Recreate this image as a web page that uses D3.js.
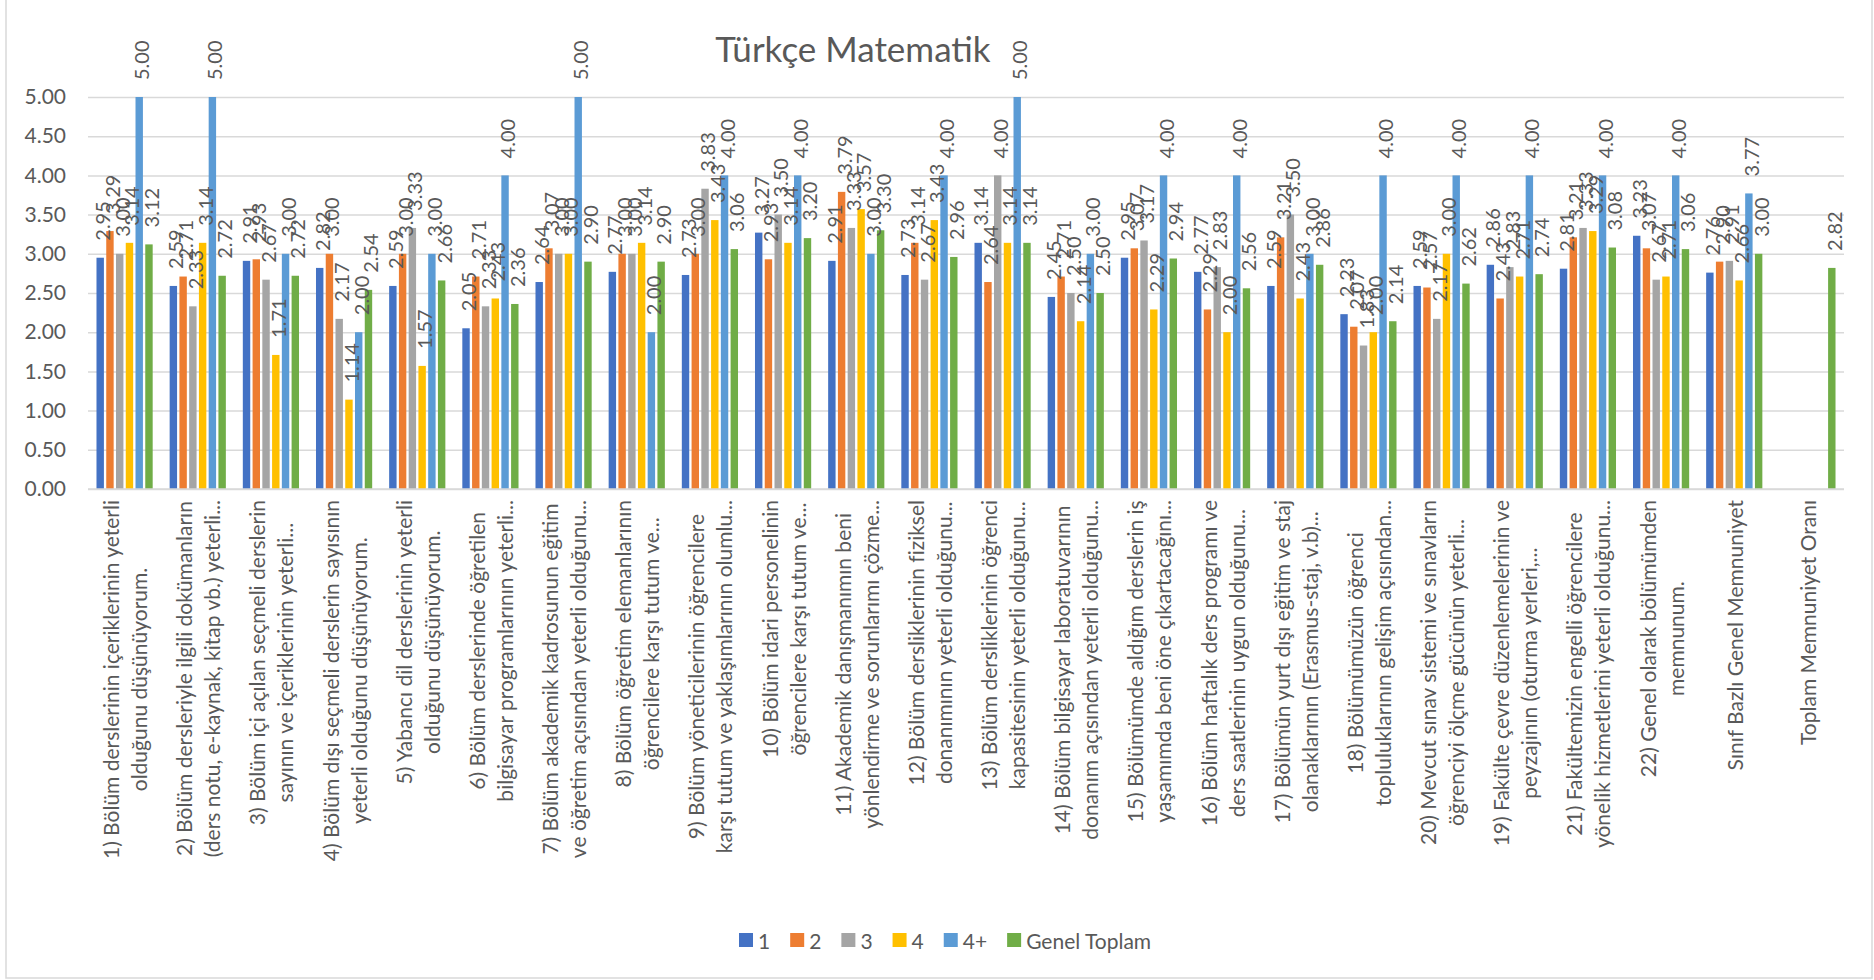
<!DOCTYPE html>
<html lang="tr">
<head>
<meta charset="utf-8">
<title>Türkçe Matematik</title>
<script src="https://cdn.jsdelivr.net/npm/d3@7"></script>
<style>
  html, body { margin: 0; padding: 0; background: #ffffff; }
  svg { display: block; }
</style>
</head>
<body>
<div id="chart"></div>
<script>
/* Category labels, as wrapped (and cut) in the original chart */
const categoryLabels = [
  ['1) Bölüm derslerinin içeriklerinin yeterli', 'olduğunu düşünüyorum.'],
  ['2) Bölüm dersleriyle ilgili dokümanların', '(ders notu, e-kaynak, kitap vb.) yeterli...'],
  ['3) Bölüm içi açılan seçmeli derslerin', 'sayının ve içeriklerinin yeterli...'],
  ['4) Bölüm dışı seçmeli derslerin sayısının', 'yeterli olduğunu düşünüyorum.'],
  ['5) Yabancı dil derslerinin yeterli', 'olduğunu düşünüyorum.'],
  ['6) Bölüm derslerinde öğretilen', 'bilgisayar programlarının yeterli...'],
  ['7) Bölüm akademik kadrosunun eğitim', 've öğretim açısından yeterli olduğunu...'],
  ['8) Bölüm öğretim elemanlarının', 'öğrencilere karşı tutum ve...'],
  ['9) Bölüm yöneticilerinin öğrencilere', 'karşı tutum ve yaklaşımlarının olumlu...'],
  ['10) Bölüm idari personelinin', 'öğrencilere karşı tutum ve...'],
  ['11) Akademik danışmanımın beni', 'yönlendirme ve sorunlarımı çözme...'],
  ['12) Bölüm dersliklerinin fiziksel', 'donanımının yeterli olduğunu...'],
  ['13) Bölüm dersliklerinin öğrenci', 'kapasitesinin yeterli olduğunu...'],
  ['14) Bölüm bilgisayar laboratuvarının', 'donanım açısından yeterli olduğunu...'],
  ['15) Bölümümde aldığım derslerin iş', 'yaşamımda beni öne çıkartacağını...'],
  ['16) Bölüm haftalık ders programı ve', 'ders saatlerinin uygun olduğunu...'],
  ['17) Bölümün yurt dışı eğitim ve staj', 'olanaklarının (Erasmus-staj, v.b)...'],
  ['18) Bölümümüzün öğrenci', 'topluluklarının gelişim açısından...'],
  ['20) Mevcut sınav sistemi ve sınavların', 'öğrenciyi ölçme gücünün yeterli...'],
  ['19) Fakülte çevre düzenlemelerinin ve', 'peyzajının (oturma yerleri,...'],
  ['21) Fakültemizin engelli öğrencilere', 'yönelik hizmetlerini yeterli olduğunu...'],
  ['22) Genel olarak bölümümden', 'memnunum.'],
  ['Sınıf Bazlı Genel Memnuniyet'],
  ['Toplam Memnuniyet Oranı'],
];

const seriesNames = ['1', '2', '3', '4', '4+', 'Genel Toplam'];
const seriesColors = ['#4472C4', '#ED7D31', '#A5A5A5', '#FFC000', '#5B9BD5', '#70AD47'];

const values1 = [2.95, 2.59, 2.91, 2.82, 2.59, 2.05, 2.64, 2.77, 2.73, 3.27, 2.91, 2.73, 3.14, 2.45, 2.95, 2.77, 2.59, 2.23, 2.59, 2.86, 2.81, 3.23, 2.76, null];
const values2 = [3.29, 2.71, 2.93, 3.00, 3.00, 2.71, 3.07, 3.00, 3.00, 2.93, 3.79, 3.14, 2.64, 2.71, 3.07, 2.29, 3.21, 2.07, 2.57, 2.43, 3.21, 3.07, 2.90, null];
const values3 = [3.00, 2.33, 2.67, 2.17, 3.33, 2.33, 3.00, 3.00, 3.83, 3.50, 3.33, 2.67, 4.00, 2.50, 3.17, 2.83, 3.50, 1.83, 2.17, 2.83, 3.33, 2.67, 2.91, null];
const values4 = [3.14, 3.14, 1.71, 1.14, 1.57, 2.43, 3.00, 3.14, 3.43, 3.14, 3.57, 3.43, 3.14, 2.14, 2.29, 2.00, 2.43, 2.00, 3.00, 2.71, 3.29, 2.71, 2.66, null];
const values4plus = [5.00, 5.00, 3.00, 2.00, 3.00, 4.00, 5.00, 2.00, 4.00, 4.00, 3.00, 4.00, 5.00, 3.00, 4.00, 4.00, 3.00, 4.00, 4.00, 4.00, 4.00, 4.00, 3.77, null];
const valuesTotal = [3.12, 2.72, 2.72, 2.54, 2.66, 2.36, 2.90, 2.90, 3.06, 3.20, 3.30, 2.96, 3.14, 2.50, 2.94, 2.56, 2.86, 2.14, 2.62, 2.74, 3.08, 3.06, 3.00, 2.82];

const seriesValues = [values1, values2, values3, values4, values4plus, valuesTotal];
const yTicks = [0, 0.5, 1, 1.5, 2, 2.5, 3, 3.5, 4, 4.5, 5];

const width = 1874;
const height = 980;
const plot = { left: 88, right: 1844, top: 97, bottom: 489 };

const textColor = '#595959';
const gridColor = '#D9D9D9';
const fontFamily = 'Lato, "Open Sans", sans-serif';

const svg = d3
  .select('#chart')
  .append('svg')
  .attr('width', width)
  .attr('height', height)
  .attr('viewBox', `0 0 ${width} ${height}`)
  .style('background', '#ffffff')
  .style('font-family', fontFamily);

/* Chart border (left, right, bottom) */
svg
  .append('path')
  .attr('d', `M6,0 V978 H1872 V0`)
  .attr('fill', 'none')
  .attr('stroke', gridColor)
  .attr('stroke-width', 1.5);

/* Title */
svg
  .append('text')
  .attr('x', 853)
  .attr('y', 62)
  .attr('text-anchor', 'middle')
  .attr('fill', textColor)
  .attr('font-size', 35)
  .text('Türkçe Matematik');

/* Scales */
const categoryIndex = d3.range(categoryLabels.length);

const x0 = d3
  .scaleBand()
  .domain(categoryIndex)
  .range([plot.left, plot.right])
  .paddingInner(0.232)
  .paddingOuter(0.116);

const x1 = d3
  .scaleBand()
  .domain(d3.range(seriesNames.length))
  .range([0, x0.bandwidth()])
  .paddingInner(0.24)
  .paddingOuter(0);

const y = d3.scaleLinear().domain([0, 5]).range([plot.bottom, plot.top]);

/* Grid and y axis */
const yAxis = svg
  .append('g')
  .attr('transform', `translate(${plot.left},0)`)
  .call(
    d3
      .axisLeft(y)
      .tickValues(yTicks)
      .tickSize(-(plot.right - plot.left))
      .tickPadding(22)
      .tickFormat(d3.format('.2f'))
  );

yAxis.select('.domain').remove();
yAxis.selectAll('line').attr('stroke', gridColor).attr('stroke-width', 1.5);
yAxis
  .selectAll('text')
  .attr('fill', textColor)
  .attr('font-size', 21)
  .attr('font-family', fontFamily);

/* Bars */
const barData = [];
seriesValues.forEach((vals, s) => {
  vals.forEach((v, i) => {
    if (v !== null) barData.push({ s, i, v });
  });
});

svg
  .append('g')
  .selectAll('rect')
  .data(barData)
  .join('rect')
  .attr('x', (d) => x0(d.i) + x1(d.s))
  .attr('y', (d) => y(d.v))
  .attr('width', x1.bandwidth())
  .attr('height', (d) => y(0) - y(d.v))
  .attr('fill', (d) => seriesColors[d.s]);

/* Data labels, rotated above each bar */
svg
  .append('g')
  .selectAll('text')
  .data(barData)
  .join('text')
  .attr('transform', (d) => {
    const cx = x0(d.i) + x1(d.s) + x1.bandwidth() / 2 + 2;
    return `translate(${cx},${y(d.v) - 17}) rotate(-90)`;
  })
  .attr('text-anchor', 'start')
  .attr('dominant-baseline', 'central')
  .attr('fill', textColor)
  .attr('font-size', 20)
  .text((d) => d3.format('.2f')(d.v));

/* Category axis line */
svg
  .append('line')
  .attr('x1', plot.left)
  .attr('x2', plot.right)
  .attr('y1', y(0))
  .attr('y2', y(0))
  .attr('stroke', gridColor)
  .attr('stroke-width', 1.5);

/* Category labels: rotated, lines centred on the longest one */
const labelTop = 500;
const lineGap = 28;

categoryIndex.forEach((i) => {
  const lines = categoryLabels[i];
  const cx = x0(i) + x0.bandwidth() / 2;
  const g = svg.append('g');

  const texts = lines.map((line) =>
    g
      .append('text')
      .attr('text-anchor', 'middle')
      .attr('dominant-baseline', 'central')
      .attr('fill', textColor)
      .attr('font-size', 21)
      .text(line)
  );

  const longest = d3.max(texts, (t) => t.node().getComputedTextLength());
  const cy = labelTop + longest / 2;

  texts.forEach((t, k) => {
    const lx = cx + (k - (lines.length - 1) / 2) * lineGap;
    t.attr('transform', `translate(${lx},${cy}) rotate(-90)`);
  });
});

/* Legend */
const legend = svg.append('g').attr('transform', 'translate(739,940)');
let legendX = 0;

seriesNames.forEach((name, s) => {
  const item = legend.append('g').attr('transform', `translate(${legendX},0)`);

  item
    .append('rect')
    .attr('x', 0)
    .attr('y', -7)
    .attr('width', 14)
    .attr('height', 14)
    .attr('fill', seriesColors[s]);

  const label = item
    .append('text')
    .attr('x', 19)
    .attr('y', 0)
    .attr('dominant-baseline', 'central')
    .attr('fill', textColor)
    .attr('font-size', 21)
    .text(name);

  legendX += 19 + label.node().getComputedTextLength() + 20;
});
</script>
</body>
</html>
